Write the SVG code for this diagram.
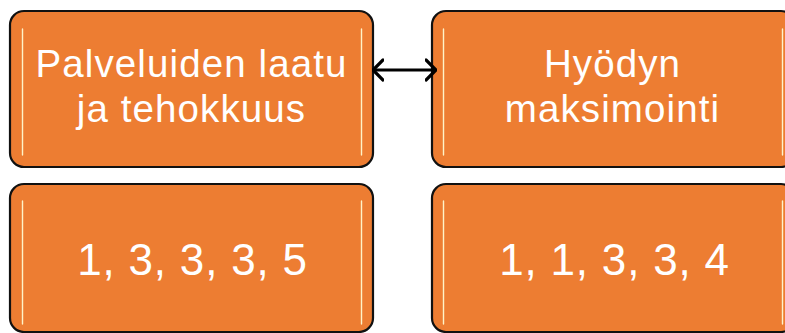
<svg xmlns="http://www.w3.org/2000/svg" width="785" height="333" viewBox="0 0 785 333">
  <defs>
    <!-- soft light rim along the inside of each box -->
    <filter id="innerGlow" x="-5%" y="-5%" width="110%" height="110%">
      <feGaussianBlur in="SourceAlpha" stdDeviation="2.4" result="blur"/>
      <feComponentTransfer in="blur" result="inv">
        <feFuncA type="linear" slope="-2.2" intercept="1.15"/>
      </feComponentTransfer>
      <feComposite in="inv" in2="SourceAlpha" operator="in" result="edge"/>
      <feFlood flood-color="#F9C29A"/>
      <feComposite in2="edge" operator="in" result="glow"/>
      <feMerge>
        <feMergeNode in="SourceGraphic"/>
        <feMergeNode in="glow"/>
      </feMerge>
    </filter>
    <filter id="softLine" x="-200%" y="-5%" width="500%" height="110%">
      <feGaussianBlur stdDeviation="0.45"/>
    </filter>
    <marker id="chevron" viewBox="0 0 12 24" refX="11" refY="12" markerWidth="12" markerHeight="24" markerUnits="userSpaceOnUse" orient="auto-start-reverse">
      <path d="M1,2 L11,12 L1,22" fill="none" stroke="#000" stroke-width="3.2" stroke-linecap="round" stroke-linejoin="round"/>
    </marker>
  </defs>
  <style>
    .fill { fill: #ED7D31; filter: url(#innerGlow); }
    .frame { fill: none; stroke: #111; stroke-width: 2.2; }
    .hl { stroke: #FFCF6A; stroke-width: 4; stroke-linecap: round; filter: url(#softLine); }
    .hlc { stroke: #FFF3C8; stroke-width: 1.4; stroke-linecap: round; }
    .label { font-family: "Liberation Sans", Arial, sans-serif; fill: #fff; text-anchor: middle; }
    .t1 { font-size: 38.5px; letter-spacing: 1.1px; }
    .t2 { font-size: 44px; letter-spacing: 0.8px; }
    .conn { stroke: #000; stroke-width: 3.2; fill: none; }
  </style>

  <rect width="785" height="333" fill="#fff"/>

  <!-- top-left -->
  <g id="quality">
    <rect class="fill" x="10" y="11" width="363" height="156" rx="14"/>
    <line class="hl" x1="22.5" y1="29" x2="22.5" y2="155"/>
    <line class="hlc" x1="22.5" y1="29" x2="22.5" y2="155"/>
    <line class="hl" x1="361.5" y1="29" x2="361.5" y2="155"/>
    <line class="hlc" x1="361.5" y1="29" x2="361.5" y2="155"/>
    <rect class="frame" x="10" y="11" width="363" height="156" rx="14"/>
    <text class="label t1"><tspan x="191.5" y="77">Palveluiden laatu</tspan><tspan x="191.5" y="122">ja tehokkuus</tspan></text>
  </g>

  <!-- top-right -->
  <g id="benefit">
    <rect class="fill" x="432" y="11" width="363" height="156" rx="14"/>
    <line class="hl" x1="443.5" y1="29" x2="443.5" y2="155"/>
    <line class="hlc" x1="443.5" y1="29" x2="443.5" y2="155"/>
    <line class="hl" x1="782.5" y1="29" x2="782.5" y2="155"/>
    <line class="hlc" x1="782.5" y1="29" x2="782.5" y2="155"/>
    <rect class="frame" x="432" y="11" width="363" height="156" rx="14"/>
    <text class="label t1"><tspan x="612.5" y="77">Hyödyn</tspan><tspan x="612.5" y="122">maksimointi</tspan></text>
  </g>

  <!-- bottom-left -->
  <g id="scoresA">
    <rect class="fill" x="10" y="184" width="363" height="148" rx="14"/>
    <line class="hl" x1="22.5" y1="201" x2="22.5" y2="324"/>
    <line class="hlc" x1="22.5" y1="201" x2="22.5" y2="324"/>
    <line class="hl" x1="361.5" y1="201" x2="361.5" y2="324"/>
    <line class="hlc" x1="361.5" y1="201" x2="361.5" y2="324"/>
    <rect class="frame" x="10" y="184" width="363" height="148" rx="14"/>
    <text class="label t2" x="192.5" y="275">1, 3, 3, 3, 5</text>
  </g>

  <!-- bottom-right -->
  <g id="scoresB">
    <rect class="fill" x="432" y="184" width="363" height="148" rx="14"/>
    <line class="hl" x1="443.5" y1="201" x2="443.5" y2="324"/>
    <line class="hlc" x1="443.5" y1="201" x2="443.5" y2="324"/>
    <line class="hl" x1="782.5" y1="201" x2="782.5" y2="324"/>
    <line class="hlc" x1="782.5" y1="201" x2="782.5" y2="324"/>
    <rect class="frame" x="432" y="184" width="363" height="148" rx="14"/>
    <text class="label t2" x="614.5" y="275">1, 1, 3, 3, 4</text>
  </g>

  <!-- connectors -->
  <g id="connectors">
    <line class="conn" x1="373" y1="70" x2="436" y2="70" marker-start="url(#chevron)" marker-end="url(#chevron)"/>
  </g>
</svg>
